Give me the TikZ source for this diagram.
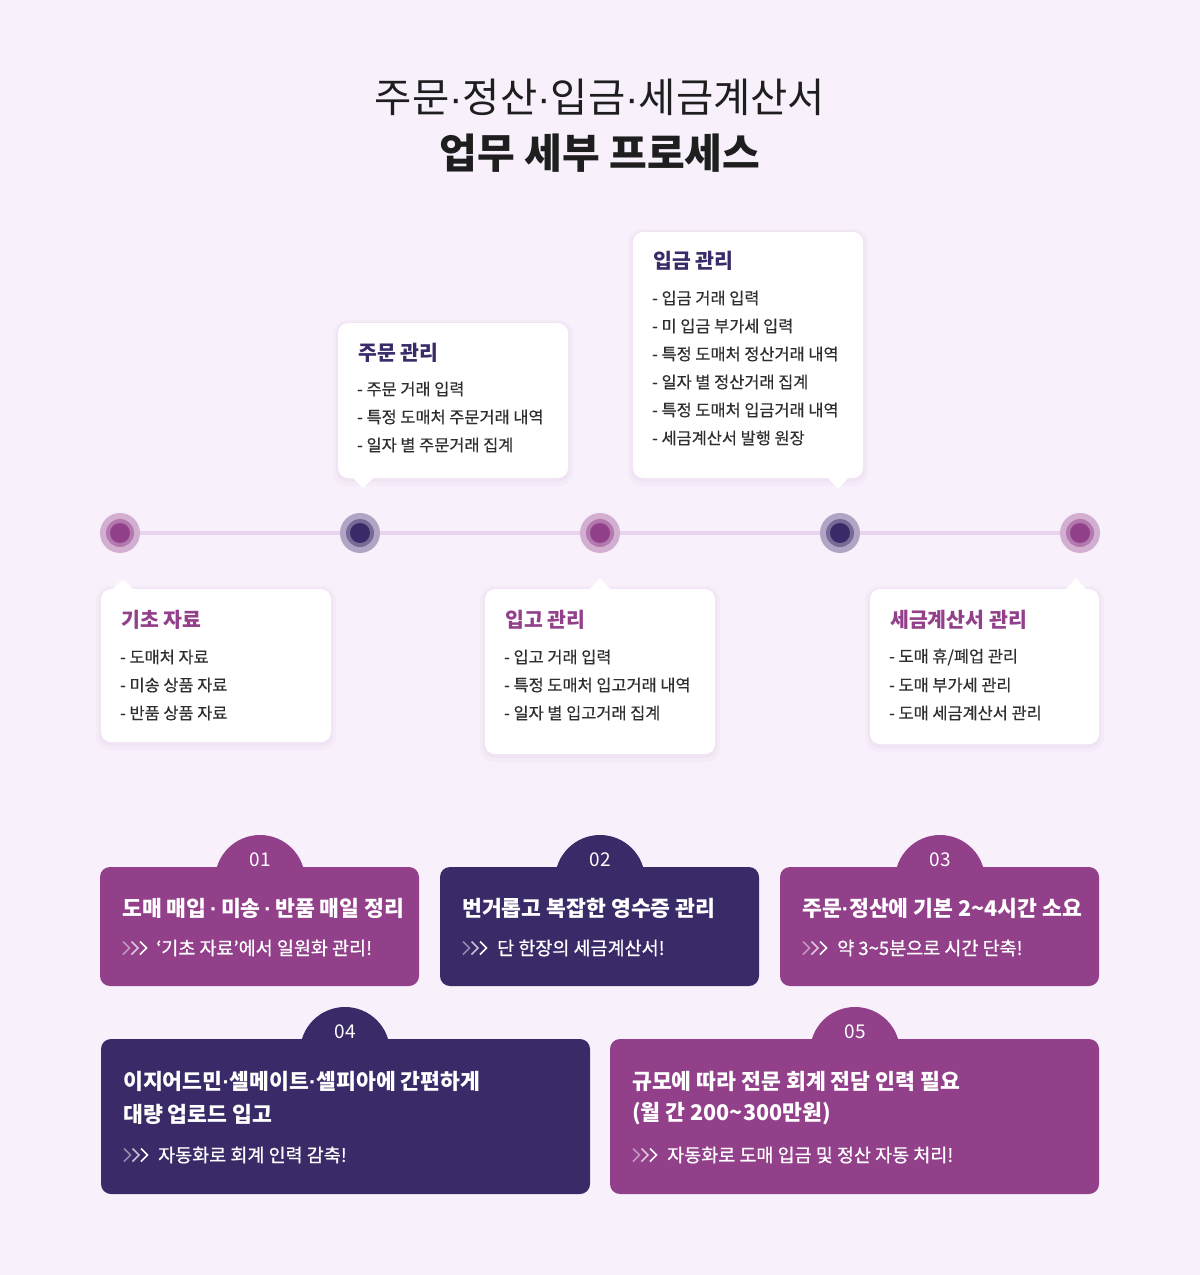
\documentclass[tikz,border=0pt]{standalone}
\usepackage{fontspec}
\setmainfont{Noto Sans CJK KR}
\newfontfamily\krsub[FakeBold=0.7]{Noto Sans CJK KR}
\newfontfamily\kritem[FakeBold=0.3]{Noto Sans CJK KR}
\newfontfamily\latin{Liberation Sans}
\usetikzlibrary{backgrounds}
\definecolor{bg}{HTML}{F8F1FC}
\definecolor{pur}{HTML}{93408B}
\definecolor{dk}{HTML}{3A2A68}
\definecolor{tl}{HTML}{E8D3EF}
\definecolor{itemc}{HTML}{2E2E2E}
\definecolor{ttl}{HTML}{1E1E1E}
\newcommand\fsz[2]{\fontsize{#1}{#2}\selectfont}
\newcommand\md{{\latin ·}}
% card: x1 y1 x2 y2 tipx tipy basey
\newcommand\cardbox[7]{%
  \fill[pur,opacity=0.035,rounded corners=14pt] (#1-5,#2-3) rectangle (#3+5,#4+8);
  \fill[pur,opacity=0.035,rounded corners=12pt] (#1-2,#2-1) rectangle (#3+2,#4+4);
  \fill[white,rounded corners=10pt] (#1,#2) rectangle (#3,#4);
  \fill[white,rounded corners=1.5pt] (#5-11,#7) -- (#5,#6) -- (#5+11,#7) -- cycle;
}
% chevrons
\newcommand\chev[2]{%
  \foreach \k/\o in {0/0.45,1/0.7,2/1}{
    \draw[white,opacity=\o,line width=1.7pt,line join=miter]
      (#1+\k*8.5,#2-6.5) -- (#1+\k*8.5+6.5,#2) -- (#1+\k*8.5,#2+6.5);}
}
\tikzset{
  ctitle/.style={anchor=west,inner sep=0,font=\bfseries\fsz{20.5}{24}},
  citem/.style={anchor=west,inner sep=0,text=itemc,font=\kritem\fsz{16.4}{20}},
  dot/.style={circle,minimum size=40pt,inner sep=0,fill=#1!38!bg,
    path picture={\fill[#1!68!bg] (path picture bounding box.center) circle (14pt);
                  \fill[#1] (path picture bounding box.center) circle (10pt);}},
  head/.style={anchor=west,inner sep=0,text=white,font=\bfseries\fsz{21.6}{26}},
  sub/.style={anchor=west,inner sep=0,text=white,font=\krsub\fsz{18.5}{22}},
  num/.style={inner sep=0,text=white,font=\fsz{19}{22}},
}
\begin{document}
\begin{tikzpicture}[x=1pt,y=-1pt]
\begin{scope}[on background layer]
\fill[bg] (0,0) rectangle (1200,1275);
\end{scope}
\useasboundingbox (0,0) rectangle (1200,1275);

% title
\node[text=ttl,font=\fsz{40.5}{44}] (t1) at (600,97) {주문\md 정산\md 입금\md 세금계산서};
\node[text=ttl,font=\bfseries\fsz{41}{44}] (t2) at (600,153) {업무 세부 프로세스};

% timeline dots
\node[dot=pur] (d1) at (120,533) {};
\node[dot=dk]  (d2) at (360,533) {};
\node[dot=pur] (d3) at (600,533) {};
\node[dot=dk]  (d4) at (840,533) {};
\node[dot=pur] (d5) at (1080,533) {};
\begin{scope}[on background layer]
\draw[tl,line width=4pt] (d1.center) -- (d5.center);
\end{scope}

% cards
\cardbox{101}{589}{331}{742}{123}{579}{590}
\node[ctitle,text=pur] (c1t) at (121,620) {기초 자료};
\foreach \t [count=\i] in {- 도매처 자료,- 미송 상품 자료,- 반품 상품 자료}
  \node[citem] (c1-\i) at (120,{657+28*(\i-1)}) {\t};

\cardbox{338}{323}{568}{478}{363}{488}{477}
\node[ctitle,text=dk] (c2t) at (358,353) {주문 관리};
\foreach \t [count=\i] in {- 주문 거래 입력,- 특정 도매처 주문거래 내역,- 일자 별 주문거래 집계}
  \node[citem] (c2-\i) at (357,{389+28*(\i-1)}) {\t};

\cardbox{485}{589}{715}{754}{600}{578}{590}
\node[ctitle,text=pur] (c3t) at (505,620) {입고 관리};
\foreach \t [count=\i] in {- 입고 거래 입력,- 특정 도매처 입고거래 내역,- 일자 별 입고거래 집계}
  \node[citem] (c3-\i) at (504,{657+28*(\i-1)}) {\t};

\cardbox{633}{232}{863}{478}{838}{489}{477}
\node[ctitle,text=dk] (c4t) at (653,261) {입금 관리};
\foreach \t [count=\i] in {- 입금 거래 입력,- 미 입금 부가세 입력,- 특정 도매처 정산거래 내역,- 일자 별 정산거래 집계,- 특정 도매처 입금거래 내역,- 세금계산서 발행 원장}
  \node[citem] (c4-\i) at (652,{298+28*(\i-1)}) {\t};

\cardbox{870}{589}{1099}{744}{1076}{578}{590}
\node[ctitle,text=pur] (c5t) at (890,620) {세금계산서 관리};
\foreach \t [count=\i] in {- 도매 휴/폐업 관리,- 도매 부가세 관리,- 도매 세금계산서 관리}
  \node[citem] (c5-\i) at (889,{657+28*(\i-1)}) {\t};

% bottom boxes
\fill[pur] (260,880) circle (45pt);
\fill[pur,rounded corners=10pt] (100,867) rectangle (419,986);
\node[num] (n1) at (260,860) {01};
\node[head] (h1) at (122,908) {도매 매입\,\md\,미송\,\md\,반품 매일 정리};
\chev{123}{948}
\node[sub] (s1) at (156,948) {‘기초 자료’에서 일원화 관리!};

\fill[dk] (600,880) circle (45pt);
\fill[dk,rounded corners=10pt] (440,867) rectangle (759,986);
\node[num] (n2) at (600,860) {02};
\node[head] (h2) at (462,908) {번거롭고 복잡한 영수증 관리};
\chev{463}{948}
\node[sub] (s2) at (497,948) {단 한장의 세금계산서!};

\fill[pur] (940,880) circle (45pt);
\fill[pur,rounded corners=10pt] (780,867) rectangle (1099,986);
\node[num] (n3) at (940,860) {03};
\node[head] (h3) at (802,908) {주문\md 정산에 기본 2\textasciitilde 4시간 소요};
\chev{803}{948}
\node[sub] (s3) at (837,948) {약 3\textasciitilde 5분으로 시간 단축!};

\fill[dk] (345,1052) circle (45pt);
\fill[dk,rounded corners=10pt] (101,1039) rectangle (590,1194);
\node[num] (n4) at (345,1032) {04};
\node[head] (h4a) at (123,1081) {이지어드민\md 셀메이트\md 셀피아에 간편하게};
\node[head] (h4b) at (123,1114) {대량 업로드 입고};
\chev{124}{1155}
\node[sub] (s4) at (158,1155) {자동화로 회계 인력 감축!};

\fill[pur] (855,1052) circle (45pt);
\fill[pur,rounded corners=10pt] (610,1039) rectangle (1099,1194);
\node[num] (n5) at (855,1032) {05};
\node[head] (h5a) at (632,1081) {규모에 따라 전문 회계 전담 인력 필요};
\node[head] (h5b) at (632,1114) {(월 간 200\textasciitilde 300만원)};
\chev{633}{1155}
\node[sub] (s5) at (667,1155) {자동화로 도매 입금 및 정산 자동 처리!};
\end{tikzpicture}
\end{document}
